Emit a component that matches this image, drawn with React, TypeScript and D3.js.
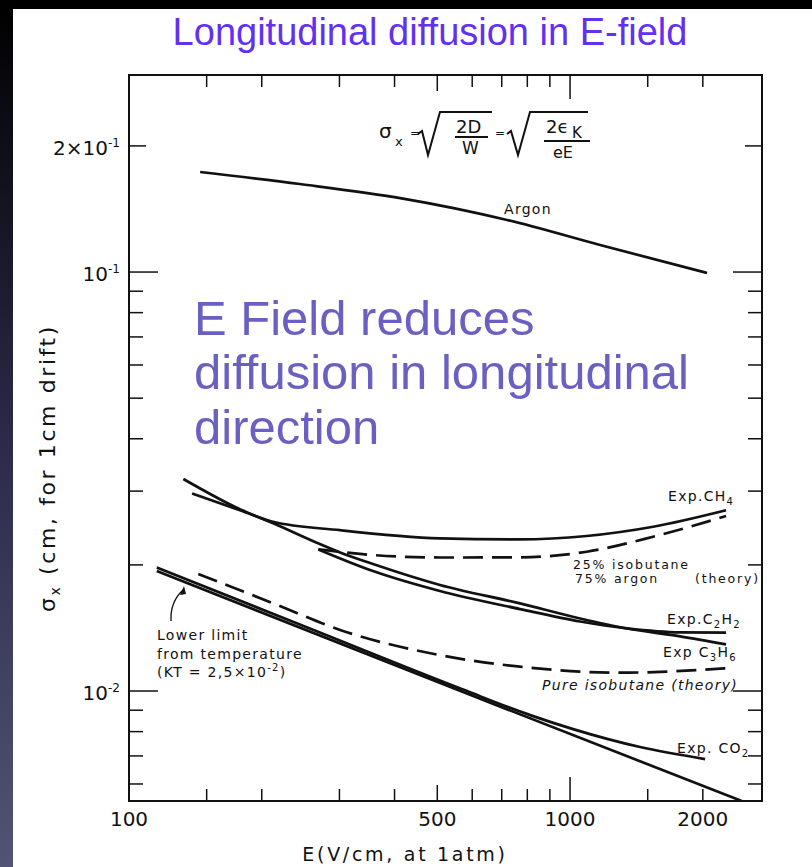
import React from "react";
import * as d3 from "d3";

const W = 812;
const H = 867;

// axis ticks
const xTickValues = [150, 200, 300, 400, 500, 600, 700, 800, 900, 1000, 1500, 2000];
const xTickLabels = [100, 500, 1000, 2000];
const yTickValues = [0.006, 0.007, 0.008, 0.009, 0.01, 0.02, 0.03, 0.04, 0.05, 0.06, 0.07, 0.08, 0.09, 0.1, 0.2];
const yLabelValues = [0.2, 0.1, 0.01];
const yLabelMantissa = ["2×10", "10", "10"];
const yLabelExponent = ["-1", "-1", "-2"];

// series (E in V/cm, sigma in cm)
const argonE = [145, 244, 412, 720, 1170, 2045];
const argonS = [0.1733, 0.1622, 0.1501, 0.1331, 0.116, 0.0995];

const ch4E = [139, 178.5, 212, 301, 507, 770, 1091, 1543, 2258];
const ch4S = [0.0296, 0.027, 0.02535, 0.0242, 0.02314, 0.023, 0.02344, 0.02466, 0.027];

const c3h6E = [132.8, 178.5, 212.4, 266.5, 301, 357.5, 507, 770, 1054, 1347, 1776, 2258];
const c3h6S = [0.03206, 0.02714, 0.02513, 0.02258, 0.02141, 0.02009, 0.01791, 0.01619, 0.0149, 0.0141, 0.0135, 0.01292];

const c2h2E = [268.7, 357.5, 507, 770, 1054, 1347, 1776, 2258];
const c2h2S = [0.02178, 0.01934, 0.01733, 0.01569, 0.01465, 0.01411, 0.0138, 0.01378];

const iso25E = [268.7, 357.5, 507, 770, 1091, 1543, 2258];
const iso25S = [0.02178, 0.02111, 0.02083, 0.02085, 0.0215, 0.02335, 0.02616];

const isoPureE = [143.6, 212.4, 301, 507, 770, 1298, 2258];
const isoPureS = [0.01902, 0.01619, 0.01399, 0.01218, 0.01143, 0.01106, 0.01133];

const lowerE = [115.6, 572, 2451];
const lowerS = [0.01934, 0.00994, 0.005464];

const co2E = [115.6, 244, 572, 812, 1016, 1441, 2024];
const co2S = [0.01971, 0.01441, 0.01008, 0.00876, 0.00811, 0.00735, 0.00688];

const seriesList = [
  { E: argonE, S: argonS, dashed: false },
  { E: ch4E, S: ch4S, dashed: false },
  { E: c3h6E, S: c3h6S, dashed: false },
  { E: c2h2E, S: c2h2S, dashed: false },
  { E: iso25E, S: iso25S, dashed: true },
  { E: isoPureE, S: isoPureS, dashed: true },
  { E: lowerE, S: lowerS, dashed: false },
  { E: co2E, S: co2S, dashed: false },
];

const PF = "DejaVu Sans";

export default function App() {
  const x = d3.scaleLog().domain([100, 2724]).range([129, 762]);
  const y = d3.scaleLog().domain([0.005464, 0.2953]).range([801, 75]);
  const line = d3
    .line<[number, number]>()
    .x((d) => x(d[0]))
    .y((d) => y(d[1]))
    .curve(d3.curveMonotoneX);

  const [x0, x1] = x.range();
  const [yb, yt] = y.range();

  const xLen = (v: number) => (v === 1000 ? 24 : v === 500 ? 16 : 12);
  const yLen = (v: number) => (v === 0.1 || v === 0.01 ? 29 : v === 0.2 ? 17 : 14);

  const lab = { fontFamily: PF, fontSize: 14, letterSpacing: 1.3, fill: "#111" } as const;
  const lab13 = { fontFamily: PF, fontSize: 12.5, letterSpacing: 1.8, fill: "#111" } as const;

  return (
    <svg width={W} height={H} style={{ position: "absolute", left: 0, top: 0 }}>
      <defs>
        <linearGradient id="strip" x1="0" y1="0" x2="0" y2="1">
          <stop offset="0" stopColor="#000000" />
          <stop offset="0.5" stopColor="#2a2a48" />
          <stop offset="1" stopColor="#535373" />
        </linearGradient>
      </defs>
      <rect x={0} y={0} width={W} height={H} fill="#000" />
      <rect x={0} y={0} width={13} height={H} fill="url(#strip)" />
      <rect x={13} y={9} width={W - 13} height={H - 9} fill="#fff" />

      {/* title */}
      <text x={430} y={45} textAnchor="middle" fontFamily="Liberation Sans" fontSize={38} fill="#6230f0">
        Longitudinal diffusion in E-field
      </text>

      {/* frame */}
      <rect x={x0} y={yt} width={x1 - x0} height={yb - yt} fill="none" stroke="#111" strokeWidth={2} />

      {/* x ticks bottom & top */}
      {xTickValues.map((v) => (
        <g key={"xt" + v}>
          <line x1={x(v)} x2={x(v)} y1={yb} y2={yb - xLen(v)} stroke="#111" strokeWidth={1.5} />
          <line x1={x(v)} x2={x(v)} y1={yt} y2={yt + xLen(v)} stroke="#111" strokeWidth={1.5} />
        </g>
      ))}
      {xTickLabels.map((v) => (
        <text key={"xl" + v} x={x(v)} y={826} textAnchor="middle" fontFamily={PF} fontSize={20} fill="#111">
          {v}
        </text>
      ))}

      {/* y ticks left & right */}
      {yTickValues.map((v) => (
        <g key={"yt" + v}>
          <line x1={x0} x2={x0 + yLen(v)} y1={y(v)} y2={y(v)} stroke="#111" strokeWidth={1.5} />
          <line x1={x1} x2={x1 - yLen(v)} y1={y(v)} y2={y(v)} stroke="#111" strokeWidth={1.5} />
        </g>
      ))}
      {yLabelValues.map((v, i) => (
        <text key={"yl" + v} x={120} y={y(v) + 9} textAnchor="end" fontFamily={PF} fontSize={20} fill="#111">
          {yLabelMantissa[i]}
          <tspan dy={-8} fontSize={12}>
            {yLabelExponent[i]}
          </tspan>
        </text>
      ))}

      {/* axis titles */}
      <text x={405} y={861} textAnchor="middle" fontFamily={PF} fontSize={19} letterSpacing={2.7} fill="#111">
        E(V/cm, at 1atm)
      </text>
      <text
        transform="translate(55,468) rotate(-90)"
        textAnchor="middle"
        fontFamily={PF}
        fontSize={22}
        letterSpacing={2.6}
        fill="#111"
      >
        σ<tspan dy={5} fontSize={14}>x</tspan>
        <tspan dy={-5}> (cm, for 1cm drift)</tspan>
      </text>

      {/* series */}
      {seriesList.map((s, i) => (
        <path
          key={"s" + i}
          d={line(s.E.map((e, j) => [e, s.S[j]] as [number, number])) || ""}
          fill="none"
          stroke="#111"
          strokeWidth={2.7}
          strokeDasharray={s.dashed ? "20 9" : undefined}
        />
      ))}

      {/* formula */}
      <g fontFamily={PF} fill="#111">
        <text x={379} y={138} fontSize={20}>σ</text>
        <text x={395} y={146} fontSize={13}>x</text>
        <text x={410} y={137} fontSize={12}>=</text>
        <path d="M418,134 L422,131 L428,155 L440,112 L492,112" fill="none" stroke="#111" strokeWidth={2} />
        <text x={456} y={133} fontSize={18}>2D</text>
        <line x1={455} x2={488} y1={137} y2={137} stroke="#111" strokeWidth={1.8} />
        <text x={462} y={154} fontSize={17}>W</text>
        <text x={495} y={137} fontSize={12}>=</text>
        <path d="M507,134 L511,131 L518,155 L530,112 L588,112" fill="none" stroke="#111" strokeWidth={2} />
        <text x={546} y={133} fontSize={18}>2ϵ</text>
        <text x={572} y={138} fontSize={15}>K</text>
        <line x1={544} x2={590} y1={141} y2={141} stroke="#111" strokeWidth={1.8} />
        <text x={553} y={158} fontSize={16}>eE</text>
      </g>

      {/* curve labels */}
      <text x={504} y={214} {...lab}>Argon</text>
      <text x={668} y={501} {...lab}>
        Exp.CH<tspan dy={4} fontSize={10}>4</tspan>
      </text>
      <text x={573} y={569} {...lab13}>25% isobutane</text>
      <text x={575} y={583} {...lab13}>75% argon</text>
      <text x={695} y={583} {...lab13}>(theory)</text>
      <text x={667} y={624} {...lab}>
        Exp.C<tspan dy={4} fontSize={10}>2</tspan>
        <tspan dy={-4}>H</tspan>
        <tspan dy={4} fontSize={10}>2</tspan>
      </text>
      <text x={663} y={657} {...lab}>
        Exp C<tspan dy={4} fontSize={10}>3</tspan>
        <tspan dy={-4}>H</tspan>
        <tspan dy={4} fontSize={10}>6</tspan>
      </text>
      <text x={542} y={690} {...lab} fontStyle="italic">Pure isobutane (theory)</text>
      <text x={677} y={753} {...lab}>
        Exp. CO<tspan dy={4} fontSize={10}>2</tspan>
      </text>
      <text x={157} y={640} {...lab}>Lower limit</text>
      <text x={157} y={659} {...lab}>from temperature</text>
      <text x={157} y={677} {...lab}>
        (KT = 2,5×10<tspan dy={-6} fontSize={10}>-2</tspan>
        <tspan dy={6}>)</tspan>
      </text>
      <path d="M171,621 Q170,602 183,590" fill="none" stroke="#111" strokeWidth={1.3} />
      <path d="M184,586 L180,595 L186,594 Z" fill="#111" />

      {/* annotation */}
      <g fontFamily="Liberation Sans" fontSize={49} fill="#6a60c2">
        <text x={194} y={335}>E Field reduces</text>
        <text x={194} y={389}>diffusion in longitudinal</text>
        <text x={194} y={444}>direction</text>
      </g>
    </svg>
  );
}
